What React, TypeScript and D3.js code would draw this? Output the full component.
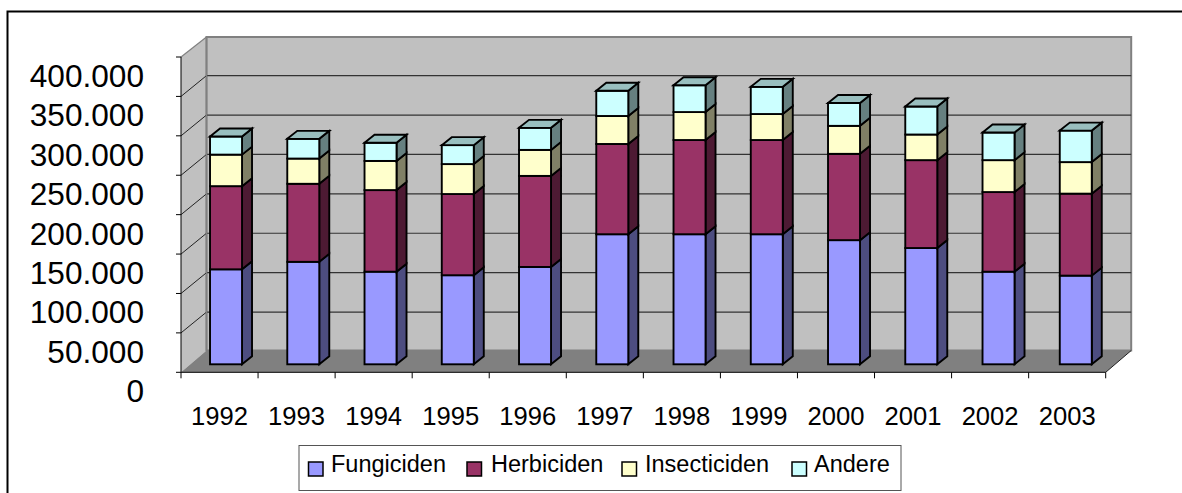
import React from "react";
import * as d3 from "d3";

const years = ["1992","1993","1994","1995","1996","1997","1998","1999","2000","2001","2002","2003"];
const fungiciden =   [120500,130000,117500,113000,123500,165000,165000,165000,157500,147500,117500,112500];
const herbiciden =   [105500, 99000,103500,103000,115500,114500,119500,119500,109500,111500,101000,104000];
const insecticiden = [ 40000, 32000, 37000, 38000, 33000, 35500, 35500, 33000, 35500, 32500, 40500, 40000];
const andere =       [ 23000, 25000, 23000, 24000, 28000, 32000, 34000, 34500, 29000, 35500, 35000, 40000];
const seriesNames = ["Fungiciden","Herbiciden","Insecticiden","Andere"];
const seriesValues = [fungiciden, herbiciden, insecticiden, andere];
const colors = ["#9999FF","#993366","#FFFFCC","#CCFFFF"];
const sideColors = ["#4D4D80","#4D1A33","#808066","#668080"];
const topColors = ["#7373BF","#73264D","#BFBF99","#99BFBF"];
const yTicks = [0,50000,100000,150000,200000,250000,300000,350000,400000];
const yTickLabels = ["0","50.000","100.000","150.000","200.000","250.000","300.000","350.000","400.000"];
const legendSwatchX = [308.5,467,622,792];
const legendTextX = [331,491,645,814];

const FONT = "'Liberation Sans', Arial, sans-serif";
const depthX = 25.5;
const depthY = 20.8;
const wallTop = 37;
const wallBottom = 350.5;
const barDX = 10;
const barDY = 8;
const barW = 32;

export default function App() {
  const y = d3.scaleLinear().domain([0,400000]).range([372.3,57]);
  const xAxis = d3.scaleBand<string>().domain(years).range([181,1105.7]);
  const xBars = d3.scaleBand<string>().domain(years).range([187.4,1114.4]);
  const stackGen = d3.stack<number>()
    .keys(seriesNames.map((_,i)=>String(i)))
    .value((idx,key)=>seriesValues[+key][idx]);
  const stacked = stackGen(years.map((_,i)=>i));
  const x0 = xAxis.range()[0];
  const x1 = xAxis.range()[1];
  const yTop = y(400000);
  const yBot = y(0);
  const pts = (a:number[][]) => a.map(p=>p.join(",")).join(" ");
  return (
    <svg width={1182} height={493} style={{position:"absolute",left:0,top:0,background:"#fff",fontFamily:FONT}}>
      <path d="M7.5,493 V11.5 H1182" fill="none" stroke="#000" strokeWidth={2}/>
      {/* walls */}
      <polygon points={pts([[x0,yTop],[x0+depthX,wallTop],[x0+depthX,wallBottom],[x0,yBot]])} fill="#C0C0C0"/>
      <rect x={x0+depthX} y={wallTop} width={x1-x0} height={wallBottom-wallTop} fill="#C0C0C0" stroke="#808080" strokeWidth={2}/>
      <polygon points={pts([[x0,yBot],[x0+depthX,wallBottom],[x1+depthX,wallBottom],[x1,yBot]])} fill="#808080"/>
      {/* gridlines */}
      {yTicks.slice(1,-1).map(t=>(
        <g key={t}>
          <line x1={x0} y1={y(t)} x2={x0+depthX} y2={y(t)-depthY} stroke="#222" strokeWidth={1}/>
          <line x1={x0+depthX} y1={y(t)-depthY} x2={x1+depthX} y2={y(t)-depthY} stroke="#333" strokeWidth={1.2}/>
        </g>
      ))}
      <line x1={x0} y1={yTop} x2={x0+depthX} y2={wallTop} stroke="#808080" strokeWidth={1.2}/>
      <line x1={x0+depthX} y1={wallTop} x2={x0+depthX} y2={wallBottom} stroke="#808080" strokeWidth={1.5}/>
      <line x1={x1} y1={yBot} x2={x1+depthX} y2={wallBottom} stroke="#222" strokeWidth={1}/>
      {/* axes */}
      <line x1={x0} y1={yTop} x2={x0} y2={yBot} stroke="#000" strokeWidth={1}/>
      <line x1={x0} y1={yBot} x2={x1} y2={yBot} stroke="#000" strokeWidth={1}/>
      {yTicks.map(t=>(
        <line key={t} x1={x0-5} x2={x0} y1={y(t)} y2={y(t)} stroke="#000" strokeWidth={1}/>
      ))}
      {years.map(yr=>(
        <line key={yr} x1={xAxis(yr)} x2={xAxis(yr)} y1={yBot} y2={yBot+6} stroke="#000" strokeWidth={1}/>
      ))}
      <line x1={x1} x2={x1} y1={yBot} y2={yBot+6} stroke="#000" strokeWidth={1}/>
      {/* bars */}
      {years.map((yr,i)=>{
        const left = (xBars(yr) as number)+xBars.bandwidth()/2-barW/2;
        const right = left+barW;
        return (
          <g key={yr} stroke="#000" strokeWidth={1.9} strokeLinejoin="miter">
            {stacked.map((s,k)=>{
              const yb = y(s[i][0])-barDY;
              const yt = y(s[i][1])-barDY;
              return (
                <g key={k}>
                  <polygon points={pts([[right,yb],[right+barDX,yb-barDY],[right+barDX,yt-barDY],[right,yt]])} fill={sideColors[k]}/>
                  <rect x={left} y={yt} width={barW} height={yb-yt} fill={colors[k]}/>
                  {k===stacked.length-1 && (
                    <polygon points={pts([[left,yt],[left+barDX,yt-barDY],[right+barDX,yt-barDY],[right,yt]])} fill={topColors[k]}/>
                  )}
                </g>
              );
            })}
          </g>
        );
      })}
      {/* tick labels */}
      {yTicks.map((t,i)=>(
        <text key={t} x={144} y={y(t)+30} textAnchor="end" fontSize={31.6} fill="#000">{yTickLabels[i]}</text>
      ))}
      {years.map(yr=>(
        <text key={yr} x={(xAxis(yr) as number)+xAxis.bandwidth()/2} y={425} textAnchor="middle" fontSize={25.6} fill="#000">{yr}</text>
      ))}
      {/* legend */}
      <rect x={299} y={445.5} width={602} height={45} fill="#fff" stroke="#555" strokeWidth={1}/>
      {seriesNames.map((n,i)=>(
        <g key={n}>
          <rect x={legendSwatchX[i]} y={462} width={14.5} height={14} fill={colors[i]} stroke="#000" strokeWidth={1.5}/>
          <text x={legendTextX[i]} y={471.5} fontSize={23.5} fill="#000">{n}</text>
        </g>
      ))}
    </svg>
  );
}
